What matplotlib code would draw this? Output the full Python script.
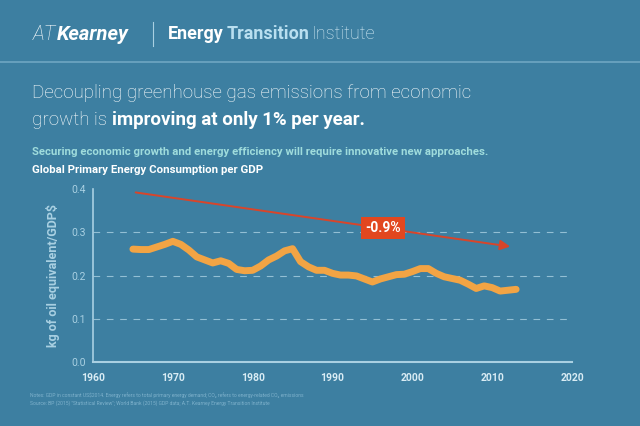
import numpy as np
import matplotlib
matplotlib.use("Agg")
import matplotlib.pyplot as plt

# Global primary energy consumption per GDP (kg oil eq / GDP$)
years = list(range(1965, 2014))
intensity = [0.261, 0.260, 0.260, 0.266, 0.272, 0.279, 0.272, 0.259, 0.243, 0.236,
             0.229, 0.234, 0.228, 0.214, 0.211, 0.212, 0.222, 0.236, 0.245, 0.257,
             0.262, 0.232, 0.220, 0.212, 0.212, 0.205, 0.201, 0.201, 0.199, 0.192,
             0.185, 0.192, 0.197, 0.202, 0.203, 0.209, 0.216, 0.216, 0.205, 0.197,
             0.193, 0.189, 0.180, 0.170, 0.176, 0.172, 0.164, 0.166, 0.168]

trend_years = [1965, 2012.6]
trend_vals = [0.393, 0.266]
trend_label = "-0.9%"
trend_label_pos = (1996.3, 0.31)

x_ticks = [1960, 1970, 1980, 1990, 2000, 2010, 2020]
y_ticks = [0.0, 0.1, 0.2, 0.3, 0.4]

BG = "#3d7fa1"
LIGHT = "#a9d0e2"
ORANGE = "#f2a444"
RED = "#d8452a"
TEAL = "#9fdcdc"
FONT = ["Roboto", "DejaVu Sans"]

plt.rcParams["font.family"] = FONT

fig = plt.figure(figsize=(6.4, 4.26), dpi=100, facecolor=BG)
fig.canvas.draw()
r = fig.canvas.get_renderer()


def after(t, gap=0):
    return (t.get_window_extent(r).x1 + gap) / 640


# header
hy = 1 - 34 / 426
a = fig.text(33 / 640, hy, "AT", color="white", fontsize=14.5, style="italic",
             fontweight="light", va="center")
fig.text(after(a, 0.5), hy, "Kearney", color="white", fontsize=14.5, style="italic",
         fontweight="bold", va="center")
fig.add_artist(plt.Line2D([153 / 640, 153 / 640], [1 - 22 / 426, 1 - 46 / 426],
                          color=LIGHT, lw=0.8, transform=fig.transFigure))
t1 = fig.text(168 / 640, hy, "Energy", color="white", fontsize=13,
              fontweight="bold", va="center")
t2 = fig.text(after(t1, 3), hy, "Transition", color="#b9dff0",
              fontsize=13, fontweight="bold", va="center")
fig.text(after(t2, 2), hy, "Institute", color="#d6ecf5",
         fontsize=13, fontweight="light", va="center")
fig.add_artist(plt.Line2D([0, 1], [1 - 62 / 426, 1 - 62 / 426], color="#6fa6c2",
                          lw=1.2, transform=fig.transFigure))

# title
fig.text(32 / 640, 1 - 93 / 426, "Decoupling greenhouse gas emissions from economic",
         color="white", fontsize=13.5, fontweight="light", va="center")
g = fig.text(32 / 640, 1 - 120 / 426, "growth is ", color="white", fontsize=13.5,
             fontweight="light", va="center")
fig.text(after(g), 1 - 120 / 426, "improving at only 1% per year.", color="white",
         fontsize=13.5, fontweight="bold", va="center")

fig.text(32 / 640, 1 - 152 / 426,
         "Securing economic growth and energy efficiency will require innovative new approaches.",
         color=TEAL, fontsize=8.2, fontweight="bold", va="center")
fig.text(32 / 640, 1 - 170 / 426, "Global Primary Energy Consumption per GDP",
         color="white", fontsize=8.2, fontweight="bold", va="center")

# chart
ax = fig.add_axes([93 / 640, 1 - 362 / 426, (572 - 93) / 640, (362 - 189) / 426])
ax.set_facecolor(BG)
ax.set_xlim(1960, 2020)
ax.set_ylim(0, 0.4)
for s in ["top", "right"]:
    ax.spines[s].set_visible(False)
ax.spines["left"].set_color(LIGHT)
ax.spines["bottom"].set_color(LIGHT)
ax.spines["left"].set_linewidth(1.2)
ax.spines["bottom"].set_linewidth(1.5)
ax.set_xticks(x_ticks)
ax.set_yticks(y_ticks)
ax.set_yticklabels([f"{v:.1f}" for v in y_ticks])
ax.tick_params(length=0)
ax.tick_params(axis="x", colors="#d9ecf4", labelsize=7.5, pad=8)
ax.tick_params(axis="y", colors=LIGHT, labelsize=7.5, pad=5)
for lab in ax.get_xticklabels():
    lab.set_fontweight("bold")
for v in [0.1, 0.2, 0.3]:
    ax.axhline(v, color=LIGHT, lw=0.8, ls=(0, (6, 6)), alpha=0.8)

ax.plot(years, intensity, color=ORANGE, lw=5, solid_capstyle="round",
        solid_joinstyle="round", zorder=3)

ax.annotate("", xy=(trend_years[1], trend_vals[1]), xytext=(trend_years[0], trend_vals[0]),
            arrowprops=dict(arrowstyle="-|>,head_length=0.6,head_width=0.3",
                            color=RED, lw=1.4), zorder=4)
ax.text(trend_label_pos[0], trend_label_pos[1], trend_label, color="white",
        fontsize=10, fontweight="bold", ha="center", va="center", zorder=5,
        bbox=dict(boxstyle="square,pad=0.3", fc="#e2471f", ec="none"))

ax.set_ylabel("kg of oil equivalent/GDP$", color=LIGHT, fontsize=9,
              fontweight="bold", labelpad=8)

# notes
fig.text(30 / 640, 1 - 395 / 426,
         "Notes: GDP in constant US$2014. Energy refers to total primary energy demand; "
         "CO\u2082 refers to energy-related CO\u2082 emissions",
         color="#7fb2cc", fontsize=3.6, va="center")
fig.text(30 / 640, 1 - 403 / 426,
         "Source: BP (2015) \"Statistical Review\"; World Bank (2015) GDP data; "
         "A.T. Kearney Energy Transition Institute",
         color="#7fb2cc", fontsize=3.6, va="center")

fig.savefig("out.png", dpi=100, facecolor=BG)
